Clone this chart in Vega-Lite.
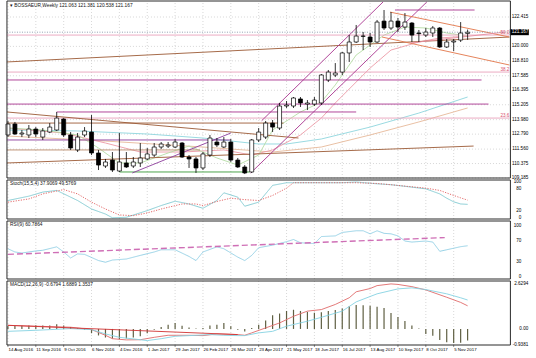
{
  "$schema": "https://vega.github.io/schema/vega-lite/v6.json",
  "width": 536,
  "height": 358,
  "autosize": {"type": "fit", "contains": "padding"},
  "padding": 0,
  "background": "#ffffff",
  "resolve": {"scale": {"y": "independent", "color": "independent", "strokeWidth": "independent", "strokeDash": "independent"}},
  "config": {
    "view": {"stroke": null},
    "text": {"font": "Liberation Sans", "fontSize": 4.8, "color": "#111111"}
  },
  "datasets": {
    "ticks": [
      {"date":"2016-08-14"},{"date":"2016-09-11"},{"date":"2016-10-09"},{"date":"2016-11-06"},{"date":"2016-12-04"},
      {"date":"2017-01-01"},{"date":"2017-01-29"},{"date":"2017-02-26"},{"date":"2017-03-26"},{"date":"2017-04-23"},
      {"date":"2017-05-21"},{"date":"2017-06-18"},{"date":"2017-07-16"},{"date":"2017-08-13"},{"date":"2017-09-10"},
      {"date":"2017-10-08"},{"date":"2017-11-05"}
    ],
    "candles": [
      {"date":"2016-08-14","open":112.72,"high":113.87,"low":112.55,"close":113.62},
      {"date":"2016-08-21","open":113.62,"high":113.79,"low":112.72,"close":112.80},
      {"date":"2016-08-28","open":112.80,"high":113.13,"low":112.55,"close":112.88},
      {"date":"2016-09-04","open":112.72,"high":113.54,"low":112.47,"close":113.21},
      {"date":"2016-09-11","open":113.21,"high":113.37,"low":112.55,"close":112.80},
      {"date":"2016-09-18","open":112.55,"high":113.29,"low":112.31,"close":113.05},
      {"date":"2016-09-25","open":112.96,"high":113.70,"low":112.88,"close":113.37},
      {"date":"2016-10-02","open":113.13,"high":114.61,"low":113.05,"close":114.11},
      {"date":"2016-10-09","open":114.03,"high":114.11,"low":112.55,"close":112.72},
      {"date":"2016-10-16","open":112.72,"high":112.96,"low":111.49,"close":111.65},
      {"date":"2016-10-23","open":111.49,"high":112.88,"low":111.32,"close":112.55},
      {"date":"2016-10-30","open":112.72,"high":113.37,"low":112.55,"close":113.05},
      {"date":"2016-11-06","open":112.96,"high":114.36,"low":111.07,"close":111.24},
      {"date":"2016-11-13","open":111.24,"high":111.49,"low":109.84,"close":110.25},
      {"date":"2016-11-20","open":110.17,"high":110.75,"low":110.01,"close":110.50},
      {"date":"2016-11-27","open":110.66,"high":111.32,"low":109.68,"close":109.84},
      {"date":"2016-12-04","open":109.76,"high":112.88,"low":109.68,"close":110.50},
      {"date":"2016-12-11","open":110.42,"high":111.32,"low":110.01,"close":110.09},
      {"date":"2016-12-18","open":110.17,"high":110.91,"low":110.01,"close":110.50},
      {"date":"2016-12-25","open":110.42,"high":112.06,"low":110.09,"close":110.83},
      {"date":"2017-01-01","open":110.75,"high":111.65,"low":110.66,"close":111.16},
      {"date":"2017-01-08","open":111.07,"high":112.06,"low":110.91,"close":111.73},
      {"date":"2017-01-15","open":111.73,"high":112.14,"low":111.57,"close":111.98},
      {"date":"2017-01-22","open":111.81,"high":112.14,"low":111.65,"close":111.90},
      {"date":"2017-01-29","open":111.73,"high":112.39,"low":111.65,"close":112.14},
      {"date":"2017-02-05","open":112.06,"high":112.14,"low":110.83,"close":110.91},
      {"date":"2017-02-12","open":110.91,"high":111.07,"low":110.01,"close":110.75},
      {"date":"2017-02-19","open":110.75,"high":110.91,"low":109.60,"close":110.01},
      {"date":"2017-02-26","open":110.01,"high":111.32,"low":109.84,"close":111.16},
      {"date":"2017-03-05","open":111.07,"high":112.72,"low":110.91,"close":112.47},
      {"date":"2017-03-12","open":112.14,"high":112.47,"low":111.73,"close":111.90},
      {"date":"2017-03-19","open":111.73,"high":112.55,"low":111.65,"close":112.14},
      {"date":"2017-03-26","open":112.14,"high":112.39,"low":110.50,"close":110.66},
      {"date":"2017-04-02","open":110.66,"high":110.83,"low":110.01,"close":110.09},
      {"date":"2017-04-09","open":110.09,"high":110.25,"low":109.51,"close":109.60},
      {"date":"2017-04-16","open":109.68,"high":112.39,"low":109.60,"close":112.31},
      {"date":"2017-04-23","open":112.31,"high":113.29,"low":112.14,"close":112.96},
      {"date":"2017-04-30","open":112.55,"high":113.87,"low":112.39,"close":113.70},
      {"date":"2017-05-07","open":113.70,"high":113.95,"low":112.96,"close":113.37},
      {"date":"2017-05-14","open":113.29,"high":115.35,"low":113.13,"close":115.10},
      {"date":"2017-05-21","open":115.10,"high":115.51,"low":114.94,"close":115.18},
      {"date":"2017-05-28","open":115.10,"high":115.84,"low":114.94,"close":115.76},
      {"date":"2017-06-04","open":115.68,"high":115.84,"low":115.02,"close":115.35},
      {"date":"2017-06-11","open":115.26,"high":115.59,"low":114.77,"close":115.35},
      {"date":"2017-06-18","open":115.26,"high":115.84,"low":115.10,"close":115.59},
      {"date":"2017-06-25","open":115.35,"high":117.73,"low":115.18,"close":117.65},
      {"date":"2017-07-02","open":117.24,"high":118.06,"low":117.07,"close":117.89},
      {"date":"2017-07-09","open":117.65,"high":118.63,"low":117.48,"close":117.81},
      {"date":"2017-07-16","open":117.89,"high":119.54,"low":117.65,"close":119.46},
      {"date":"2017-07-23","open":119.46,"high":120.93,"low":118.72,"close":120.36},
      {"date":"2017-07-30","open":120.36,"high":121.76,"low":120.28,"close":120.85},
      {"date":"2017-08-06","open":120.85,"high":121.18,"low":119.70,"close":120.83},
      {"date":"2017-08-13","open":120.77,"high":121.10,"low":119.95,"close":120.36},
      {"date":"2017-08-20","open":120.36,"high":122.17,"low":120.28,"close":122.00},
      {"date":"2017-08-27","open":122.08,"high":122.99,"low":121.35,"close":121.51},
      {"date":"2017-09-03","open":121.51,"high":122.82,"low":121.35,"close":122.08},
      {"date":"2017-09-10","open":122.08,"high":122.33,"low":121.18,"close":121.59},
      {"date":"2017-09-17","open":121.59,"high":122.74,"low":121.35,"close":122.00},
      {"date":"2017-09-24","open":121.92,"high":122.00,"low":120.36,"close":120.93},
      {"date":"2017-10-01","open":121.10,"high":121.35,"low":120.36,"close":121.05},
      {"date":"2017-10-08","open":120.93,"high":121.51,"low":120.77,"close":121.18},
      {"date":"2017-10-15","open":121.10,"high":121.67,"low":120.77,"close":121.51},
      {"date":"2017-10-22","open":121.51,"high":121.59,"low":119.87,"close":119.95},
      {"date":"2017-10-29","open":119.95,"high":120.61,"low":119.87,"close":120.36},
      {"date":"2017-11-05","open":120.36,"high":120.61,"low":119.62,"close":120.44},
      {"date":"2017-11-12","open":120.52,"high":122.00,"low":120.36,"close":121.10},
      {"date":"2017-11-19","open":121.063,"high":121.381,"low":120.538,"close":121.167}
    ],
    "lines": [
      {"id":"ma_tan","kind":"ma_tan","date":"2016-08-14","price":112.63},
      {"id":"ma_tan","kind":"ma_tan","date":"2016-11-20","price":112.22},
      {"id":"ma_tan","kind":"ma_tan","date":"2017-02-26","price":111.73},
      {"id":"ma_tan","kind":"ma_tan","date":"2017-05-07","price":111.32},
      {"id":"ma_tan","kind":"ma_tan","date":"2017-06-25","price":111.73},
      {"id":"ma_tan","kind":"ma_tan","date":"2017-08-13","price":112.72},
      {"id":"ma_tan","kind":"ma_tan","date":"2017-10-01","price":113.79},
      {"id":"ma_tan","kind":"ma_tan","date":"2017-11-19","price":114.94},
      {"id":"ma_cyan","kind":"ma_cyan","date":"2016-08-14","price":113.13},
      {"id":"ma_cyan","kind":"ma_cyan","date":"2016-10-23","price":113.05},
      {"id":"ma_cyan","kind":"ma_cyan","date":"2017-01-01","price":112.80},
      {"id":"ma_cyan","kind":"ma_cyan","date":"2017-02-26","price":112.47},
      {"id":"ma_cyan","kind":"ma_cyan","date":"2017-04-23","price":111.98},
      {"id":"ma_cyan","kind":"ma_cyan","date":"2017-05-21","price":111.98},
      {"id":"ma_cyan","kind":"ma_cyan","date":"2017-06-25","price":112.39},
      {"id":"ma_cyan","kind":"ma_cyan","date":"2017-08-13","price":113.37},
      {"id":"ma_cyan","kind":"ma_cyan","date":"2017-10-01","price":114.52},
      {"id":"ma_cyan","kind":"ma_cyan","date":"2017-11-19","price":115.84},
      {"id":"ma_pink","kind":"ma_pink","date":"2016-08-14","price":113.29},
      {"id":"ma_pink","kind":"ma_pink","date":"2016-10-09","price":112.88},
      {"id":"ma_pink","kind":"ma_pink","date":"2016-11-20","price":112.06},
      {"id":"ma_pink","kind":"ma_pink","date":"2016-12-25","price":111.32},
      {"id":"ma_pink","kind":"ma_pink","date":"2017-02-05","price":111.32},
      {"id":"ma_pink","kind":"ma_pink","date":"2017-03-19","price":111.49},
      {"id":"ma_pink","kind":"ma_pink","date":"2017-04-16","price":111.07},
      {"id":"ma_pink","kind":"ma_pink","date":"2017-05-07","price":111.49},
      {"id":"ma_pink","kind":"ma_pink","date":"2017-06-04","price":112.72},
      {"id":"ma_pink","kind":"ma_pink","date":"2017-06-25","price":114.11},
      {"id":"ma_pink","kind":"ma_pink","date":"2017-07-09","price":115.35},
      {"id":"ma_pink","kind":"ma_pink","date":"2017-08-13","price":118.22},
      {"id":"ma_pink","kind":"ma_pink","date":"2017-09-03","price":119.70},
      {"id":"ma_pink","kind":"ma_pink","date":"2017-10-01","price":120.36},
      {"id":"ma_pink","kind":"ma_pink","date":"2017-10-22","price":120.69},
      {"id":"ma_pink","kind":"ma_pink","date":"2017-11-19","price":120.85},
      {"id":"ma_green","kind":"ma_green","date":"2016-08-14","price":113.29},
      {"id":"ma_green","kind":"ma_green","date":"2016-09-18","price":113.13},
      {"id":"ma_green","kind":"ma_green","date":"2016-10-23","price":112.72},
      {"id":"ma_green","kind":"ma_green","date":"2016-11-13","price":111.65},
      {"id":"ma_green","kind":"ma_green","date":"2016-12-04","price":110.42},
      {"id":"ma_green","kind":"ma_green","date":"2016-12-25","price":110.42},
      {"id":"ma_green","kind":"ma_green","date":"2017-01-22","price":111.24},
      {"id":"ma_green","kind":"ma_green","date":"2017-02-12","price":111.81},
      {"id":"ma_green","kind":"ma_green","date":"2017-03-12","price":110.83},
      {"id":"ma_green","kind":"ma_green","date":"2017-04-02","price":110.25},
      {"id":"ma_green","kind":"ma_green","date":"2017-04-23","price":111.07},
      {"id":"ma_green","kind":"ma_green","date":"2017-05-07","price":113.13},
      {"id":"ma_green","kind":"ma_green","date":"2017-06-04","price":114.61},
      {"id":"ma_green","kind":"ma_green","date":"2017-06-25","price":115.43},
      {"id":"ma_green","kind":"ma_green","date":"2017-07-09","price":116.83},
      {"id":"ma_green","kind":"ma_green","date":"2017-07-30","price":119.29},
      {"id":"ma_green","kind":"ma_green","date":"2017-08-27","price":120.93},
      {"id":"ma_green","kind":"ma_green","date":"2017-09-17","price":121.59},
      {"id":"ma_green","kind":"ma_green","date":"2017-10-08","price":121.51},
      {"id":"ma_green","kind":"ma_green","date":"2017-10-29","price":121.10},
      {"id":"ma_green","kind":"ma_green","date":"2017-11-19","price":120.85},
      {"id":"fib50","kind":"fib","date":"2016-08-13","price":120.93},
      {"id":"fib50","kind":"fib","date":"2017-12-31","price":120.93},
      {"id":"fib382","kind":"fib","date":"2016-08-13","price":117.89},
      {"id":"fib382","kind":"fib","date":"2017-12-31","price":117.89},
      {"id":"fib236","kind":"fib","date":"2016-08-13","price":114.11},
      {"id":"fib236","kind":"fib","date":"2017-12-31","price":114.11},
      {"id":"mag1","kind":"magenta","date":"2016-08-13","price":117.24},
      {"id":"mag1","kind":"magenta","date":"2017-12-03","price":117.24},
      {"id":"mag2","kind":"magenta","date":"2016-08-13","price":115.26},
      {"id":"mag2","kind":"magenta","date":"2017-12-10","price":115.26},
      {"id":"mag3","kind":"magenta","date":"2016-10-02","price":114.61},
      {"id":"mag3","kind":"magenta","date":"2017-07-30","price":114.61},
      {"id":"mag4","kind":"magenta","date":"2017-09-07","price":122.99},
      {"id":"mag4","kind":"magenta","date":"2017-11-26","price":122.99},
      {"id":"brh1","kind":"brown","date":"2016-08-13","price":113.70},
      {"id":"brh1","kind":"brown","date":"2017-05-18","price":113.70},
      {"id":"purh","kind":"purple","date":"2016-08-13","price":112.31},
      {"id":"purh","kind":"purple","date":"2017-03-26","price":112.31},
      {"id":"brh2","kind":"brownthin","date":"2016-08-13","price":111.49},
      {"id":"brh2","kind":"brownthin","date":"2017-02-23","price":111.49},
      {"id":"grn","kind":"green","date":"2016-12-04","price":109.68},
      {"id":"grn","kind":"green","date":"2017-04-14","price":109.68},
      {"id":"d1","kind":"brown","date":"2016-08-13","price":118.72},
      {"id":"d1","kind":"brown","date":"2017-12-31","price":120.77},
      {"id":"d2","kind":"brown","date":"2016-08-13","price":114.61},
      {"id":"d2","kind":"brown","date":"2017-06-02","price":112.47},
      {"id":"d3","kind":"brown","date":"2016-08-13","price":110.42},
      {"id":"d3","kind":"brown","date":"2017-11-25","price":111.81},
      {"id":"d4","kind":"purple","date":"2016-12-17","price":109.60},
      {"id":"d4","kind":"purple","date":"2017-03-26","price":112.88},
      {"id":"d5","kind":"magenta","date":"2017-04-26","price":113.89},
      {"id":"d5","kind":"magenta","date":"2017-08-26","price":123.65},
      {"id":"d6","kind":"magenta","date":"2017-04-15","price":109.60},
      {"id":"d6","kind":"magenta","date":"2017-10-09","price":123.65},
      {"id":"d7","kind":"orange","date":"2017-09-02","price":122.82},
      {"id":"d7","kind":"orange","date":"2017-12-31","price":120.77},
      {"id":"d8","kind":"orange","date":"2017-08-25","price":120.77},
      {"id":"d8","kind":"orange","date":"2017-12-31","price":118.47},
      {"id":"d9","kind":"pinkline","date":"2017-09-22","price":120.28},
      {"id":"d9","kind":"pinkline","date":"2017-12-27","price":121.18}
    ],
    "fiblabels": [
      {"label":"50.0","date":"2017-12-31","price":120.93},
      {"label":"38.2","date":"2017-12-31","price":117.89},
      {"label":"23.6","date":"2017-12-31","price":114.11}
    ],
    "pricebox": [
      {"label":"121.167","date":"2018-01-10","labeldate":"2018-01-19","price":121.167}
    ],
    "mainlabels": [
      {"label":"122.415","date":"2018-01-19","price":122.415},
      {"label":"120.000","date":"2018-01-19","price":120.0},
      {"label":"118.810","date":"2018-01-19","price":118.81},
      {"label":"117.585","date":"2018-01-19","price":117.585},
      {"label":"116.395","date":"2018-01-19","price":116.395},
      {"label":"115.205","date":"2018-01-19","price":115.205},
      {"label":"113.980","date":"2018-01-19","price":113.98},
      {"label":"112.790","date":"2018-01-19","price":112.79},
      {"label":"111.560","date":"2018-01-19","price":111.56},
      {"label":"110.375","date":"2018-01-19","price":110.375},
      {"label":"109.185","date":"2018-01-19","price":109.185}
    ],
    "datelabels": [
      {"label":"14 Aug 2016","date":"2016-08-14","value":-0.9381},
      {"label":"11 Sep 2016","date":"2016-09-11","value":-0.9381},
      {"label":"9 Oct 2016","date":"2016-10-09","value":-0.9381},
      {"label":"6 Nov 2016","date":"2016-11-06","value":-0.9381},
      {"label":"4 Dec 2016","date":"2016-12-04","value":-0.9381},
      {"label":"1 Jan 2017","date":"2017-01-01","value":-0.9381},
      {"label":"29 Jan 2017","date":"2017-01-29","value":-0.9381},
      {"label":"26 Feb 2017","date":"2017-02-26","value":-0.9381},
      {"label":"26 Mar 2017","date":"2017-03-26","value":-0.9381},
      {"label":"23 Apr 2017","date":"2017-04-23","value":-0.9381},
      {"label":"21 May 2017","date":"2017-05-21","value":-0.9381},
      {"label":"18 Jun 2017","date":"2017-06-18","value":-0.9381},
      {"label":"16 Jul 2017","date":"2017-07-16","value":-0.9381},
      {"label":"13 Aug 2017","date":"2017-08-13","value":-0.9381},
      {"label":"10 Sep 2017","date":"2017-09-10","value":-0.9381},
      {"label":"8 Oct 2017","date":"2017-10-08","value":-0.9381},
      {"label":"5 Nov 2017","date":"2017-11-05","value":-0.9381}
    ],
    "stoch": [
      {"series":"K","date":"2016-08-14","value":48.6},
      {"series":"K","date":"2016-09-04","value":60.7},
      {"series":"K","date":"2016-09-18","value":72},
      {"series":"K","date":"2016-10-02","value":76.6},
      {"series":"K","date":"2016-10-23","value":48.6},
      {"series":"K","date":"2016-11-06","value":25},
      {"series":"K","date":"2016-11-20","value":11},
      {"series":"K","date":"2016-11-27","value":0.5},
      {"series":"K","date":"2016-12-11","value":2},
      {"series":"K","date":"2017-01-01","value":20.5},
      {"series":"K","date":"2017-01-15","value":34.6},
      {"series":"K","date":"2017-01-29","value":46.7},
      {"series":"K","date":"2017-02-12","value":39},
      {"series":"K","date":"2017-02-26","value":27},
      {"series":"K","date":"2017-03-12","value":48.6},
      {"series":"K","date":"2017-03-19","value":70},
      {"series":"K","date":"2017-04-02","value":58},
      {"series":"K","date":"2017-04-09","value":32.7},
      {"series":"K","date":"2017-04-23","value":44},
      {"series":"K","date":"2017-05-07","value":90.7},
      {"series":"K","date":"2017-05-21","value":98},
      {"series":"K","date":"2017-06-04","value":98},
      {"series":"K","date":"2017-06-25","value":98},
      {"series":"K","date":"2017-07-16","value":98},
      {"series":"K","date":"2017-07-30","value":100},
      {"series":"K","date":"2017-08-20","value":95},
      {"series":"K","date":"2017-09-03","value":92.5},
      {"series":"K","date":"2017-09-17","value":88},
      {"series":"K","date":"2017-10-08","value":81},
      {"series":"K","date":"2017-10-22","value":67},
      {"series":"K","date":"2017-10-29","value":55},
      {"series":"K","date":"2017-11-05","value":45},
      {"series":"K","date":"2017-11-12","value":39},
      {"series":"K","date":"2017-11-19","value":37.9},
      {"series":"D","date":"2016-08-14","value":44},
      {"series":"D","date":"2016-09-04","value":53},
      {"series":"D","date":"2016-09-18","value":67},
      {"series":"D","date":"2016-10-09","value":79},
      {"series":"D","date":"2016-10-23","value":67},
      {"series":"D","date":"2016-11-06","value":44},
      {"series":"D","date":"2016-11-20","value":25},
      {"series":"D","date":"2016-12-04","value":8.4},
      {"series":"D","date":"2016-12-18","value":6.5},
      {"series":"D","date":"2017-01-01","value":14},
      {"series":"D","date":"2017-01-15","value":25},
      {"series":"D","date":"2017-02-05","value":39},
      {"series":"D","date":"2017-02-19","value":39},
      {"series":"D","date":"2017-02-26","value":34.6},
      {"series":"D","date":"2017-03-12","value":46},
      {"series":"D","date":"2017-03-26","value":55},
      {"series":"D","date":"2017-04-09","value":51},
      {"series":"D","date":"2017-04-23","value":48.6},
      {"series":"D","date":"2017-05-07","value":62.6},
      {"series":"D","date":"2017-05-21","value":83},
      {"series":"D","date":"2017-05-28","value":98},
      {"series":"D","date":"2017-06-25","value":98},
      {"series":"D","date":"2017-07-30","value":98},
      {"series":"D","date":"2017-08-20","value":96},
      {"series":"D","date":"2017-09-03","value":92.5},
      {"series":"D","date":"2017-09-17","value":88.6},
      {"series":"D","date":"2017-10-08","value":83},
      {"series":"D","date":"2017-10-22","value":76.6},
      {"series":"D","date":"2017-11-05","value":62.6},
      {"series":"D","date":"2017-11-12","value":56},
      {"series":"D","date":"2017-11-19","value":49.6}
    ],
    "rsi": [
      {"series":"RSI","date":"2016-08-14","value":55},
      {"series":"RSI","date":"2016-08-21","value":48.7},
      {"series":"RSI","date":"2016-08-28","value":46.7},
      {"series":"RSI","date":"2016-09-11","value":50.7},
      {"series":"RSI","date":"2016-09-18","value":52},
      {"series":"RSI","date":"2016-10-02","value":58.7},
      {"series":"RSI","date":"2016-10-09","value":48.7},
      {"series":"RSI","date":"2016-10-16","value":37},
      {"series":"RSI","date":"2016-10-23","value":45},
      {"series":"RSI","date":"2016-10-30","value":44},
      {"series":"RSI","date":"2016-11-13","value":32},
      {"series":"RSI","date":"2016-11-20","value":28.7},
      {"series":"RSI","date":"2016-11-27","value":33},
      {"series":"RSI","date":"2016-12-11","value":35},
      {"series":"RSI","date":"2016-12-25","value":42},
      {"series":"RSI","date":"2017-01-08","value":48.7},
      {"series":"RSI","date":"2017-01-15","value":53},
      {"series":"RSI","date":"2017-01-29","value":53},
      {"series":"RSI","date":"2017-02-12","value":40},
      {"series":"RSI","date":"2017-02-19","value":32},
      {"series":"RSI","date":"2017-02-26","value":48.7},
      {"series":"RSI","date":"2017-03-12","value":58.7},
      {"series":"RSI","date":"2017-03-19","value":55},
      {"series":"RSI","date":"2017-04-02","value":38.7},
      {"series":"RSI","date":"2017-04-09","value":32},
      {"series":"RSI","date":"2017-04-16","value":42},
      {"series":"RSI","date":"2017-04-23","value":57},
      {"series":"RSI","date":"2017-05-07","value":62},
      {"series":"RSI","date":"2017-05-21","value":68.7},
      {"series":"RSI","date":"2017-05-28","value":73},
      {"series":"RSI","date":"2017-06-04","value":66.7},
      {"series":"RSI","date":"2017-06-18","value":65},
      {"series":"RSI","date":"2017-06-25","value":78.7},
      {"series":"RSI","date":"2017-07-09","value":80},
      {"series":"RSI","date":"2017-07-16","value":86.7},
      {"series":"RSI","date":"2017-07-30","value":90},
      {"series":"RSI","date":"2017-08-06","value":90},
      {"series":"RSI","date":"2017-08-13","value":84},
      {"series":"RSI","date":"2017-08-20","value":90},
      {"series":"RSI","date":"2017-08-27","value":85},
      {"series":"RSI","date":"2017-09-03","value":84},
      {"series":"RSI","date":"2017-09-10","value":80},
      {"series":"RSI","date":"2017-09-17","value":70},
      {"series":"RSI","date":"2017-09-24","value":68},
      {"series":"RSI","date":"2017-10-01","value":69},
      {"series":"RSI","date":"2017-10-08","value":70},
      {"series":"RSI","date":"2017-10-15","value":68},
      {"series":"RSI","date":"2017-10-22","value":50},
      {"series":"RSI","date":"2017-10-29","value":53},
      {"series":"RSI","date":"2017-11-05","value":56},
      {"series":"RSI","date":"2017-11-12","value":59},
      {"series":"RSI","date":"2017-11-19","value":60.8},
      {"series":"trend","date":"2016-08-14","value":44},
      {"series":"trend","date":"2017-10-27","value":76.7}
    ],
    "macdhist": [
      {"date":"2016-08-14","value":0.15},{"date":"2016-08-21","value":0.18},{"date":"2016-08-28","value":0.2},
      {"date":"2016-09-04","value":0.2},{"date":"2016-09-11","value":0.22},{"date":"2016-09-18","value":0.2},
      {"date":"2016-09-25","value":0.2},{"date":"2016-10-02","value":0.28},{"date":"2016-10-09","value":0.2},
      {"date":"2016-10-16","value":0.12},{"date":"2016-10-23","value":0.05},{"date":"2016-10-30","value":-0.05},
      {"date":"2016-11-06","value":-0.25},{"date":"2016-11-13","value":-0.38},{"date":"2016-11-20","value":-0.5},
      {"date":"2016-11-27","value":-0.56},{"date":"2016-12-04","value":-0.6},{"date":"2016-12-11","value":-0.56},
      {"date":"2016-12-18","value":-0.5},{"date":"2016-12-25","value":-0.42},{"date":"2017-01-01","value":-0.25},
      {"date":"2017-01-08","value":-0.05},{"date":"2017-01-15","value":0.12},{"date":"2017-01-22","value":0.25},
      {"date":"2017-01-29","value":0.35},{"date":"2017-02-05","value":0.18},{"date":"2017-02-12","value":0.08},
      {"date":"2017-02-19","value":0.02},{"date":"2017-02-26","value":0.06},{"date":"2017-03-05","value":0.2},
      {"date":"2017-03-12","value":0.25},{"date":"2017-03-19","value":0.35},{"date":"2017-03-26","value":0.15},
      {"date":"2017-04-02","value":-0.05},{"date":"2017-04-09","value":-0.15},{"date":"2017-04-16","value":0.05},
      {"date":"2017-04-23","value":0.25},{"date":"2017-04-30","value":0.5},{"date":"2017-05-07","value":0.8},
      {"date":"2017-05-14","value":0.9},{"date":"2017-05-21","value":1.05},{"date":"2017-05-28","value":1.12},
      {"date":"2017-06-04","value":1.05},{"date":"2017-06-11","value":1.0},{"date":"2017-06-18","value":0.95},
      {"date":"2017-06-25","value":0.98},{"date":"2017-07-02","value":1.05},{"date":"2017-07-09","value":1.1},
      {"date":"2017-07-16","value":1.2},{"date":"2017-07-23","value":1.32},{"date":"2017-07-30","value":1.4},
      {"date":"2017-08-06","value":1.38},{"date":"2017-08-13","value":1.35},{"date":"2017-08-20","value":1.3},
      {"date":"2017-08-27","value":1.23},{"date":"2017-09-03","value":0.93},{"date":"2017-09-10","value":0.7},
      {"date":"2017-09-17","value":0.47},{"date":"2017-09-24","value":0.2},{"date":"2017-10-01","value":0.02},
      {"date":"2017-10-08","value":-0.3},{"date":"2017-10-15","value":-0.4},{"date":"2017-10-22","value":-0.64},
      {"date":"2017-10-29","value":-0.78},{"date":"2017-11-05","value":-0.82},{"date":"2017-11-12","value":-0.8},
      {"date":"2017-11-19","value":-0.68}
    ],
    "macdlines": [
      {"series":"main","date":"2016-08-14","value":0.21},{"series":"main","date":"2016-09-11","value":0.16},
      {"series":"main","date":"2016-10-16","value":0.1},{"series":"main","date":"2016-11-06","value":-0.04},
      {"series":"main","date":"2016-11-20","value":-0.37},{"series":"main","date":"2016-11-27","value":-0.57},
      {"series":"main","date":"2016-12-11","value":-0.64},{"series":"main","date":"2016-12-25","value":-0.63},
      {"series":"main","date":"2017-01-08","value":-0.49},{"series":"main","date":"2017-01-22","value":-0.37},
      {"series":"main","date":"2017-02-12","value":-0.37},{"series":"main","date":"2017-02-26","value":-0.39},
      {"series":"main","date":"2017-03-12","value":-0.29},{"series":"main","date":"2017-04-02","value":-0.33},
      {"series":"main","date":"2017-04-09","value":-0.37},{"series":"main","date":"2017-04-16","value":-0.23},
      {"series":"main","date":"2017-04-30","value":0.06},{"series":"main","date":"2017-05-14","value":0.35},
      {"series":"main","date":"2017-05-28","value":0.74},{"series":"main","date":"2017-06-11","value":1.04},
      {"series":"main","date":"2017-06-25","value":1.13},{"series":"main","date":"2017-07-09","value":1.43},
      {"series":"main","date":"2017-07-23","value":1.82},{"series":"main","date":"2017-07-30","value":2.17},
      {"series":"main","date":"2017-08-13","value":2.36},{"series":"main","date":"2017-08-20","value":2.53},
      {"series":"main","date":"2017-09-03","value":2.63},{"series":"main","date":"2017-09-10","value":2.6},
      {"series":"main","date":"2017-09-24","value":2.47},{"series":"main","date":"2017-10-08","value":2.28},
      {"series":"main","date":"2017-10-29","value":1.85},{"series":"main","date":"2017-11-12","value":1.55},
      {"series":"main","date":"2017-11-19","value":1.35},
      {"series":"signal","date":"2016-08-14","value":-0.14},{"series":"signal","date":"2016-09-11","value":-0.08},
      {"series":"signal","date":"2016-10-16","value":0.02},{"series":"signal","date":"2016-11-06","value":-0.04},
      {"series":"signal","date":"2016-11-20","value":-0.29},{"series":"signal","date":"2016-12-04","value":-0.49},
      {"series":"signal","date":"2016-12-25","value":-0.63},{"series":"signal","date":"2017-01-01","value":-0.68},
      {"series":"signal","date":"2017-01-15","value":-0.57},{"series":"signal","date":"2017-01-29","value":-0.43},
      {"series":"signal","date":"2017-02-19","value":-0.37},{"series":"signal","date":"2017-03-05","value":-0.33},
      {"series":"signal","date":"2017-03-19","value":-0.37},{"series":"signal","date":"2017-04-02","value":-0.39},
      {"series":"signal","date":"2017-04-09","value":-0.39},{"series":"signal","date":"2017-04-23","value":-0.23},
      {"series":"signal","date":"2017-05-07","value":-0.14},{"series":"signal","date":"2017-05-21","value":0.16},
      {"series":"signal","date":"2017-06-11","value":0.45},{"series":"signal","date":"2017-06-25","value":0.68},
      {"series":"signal","date":"2017-07-16","value":1.04},{"series":"signal","date":"2017-07-30","value":1.58},
      {"series":"signal","date":"2017-08-20","value":2.05},{"series":"signal","date":"2017-09-10","value":2.34},
      {"series":"signal","date":"2017-09-24","value":2.4},{"series":"signal","date":"2017-10-08","value":2.3},
      {"series":"signal","date":"2017-10-29","value":2.05},{"series":"signal","date":"2017-11-12","value":1.82},
      {"series":"signal","date":"2017-11-19","value":1.69},
      {"series":"trend","date":"2016-08-14","value":0.21},{"series":"trend","date":"2017-04-02","value":-0.33}
    ]
  },
  "layer": [
    {
      "data": {"name": "ticks"},
      "mark": {"type": "rule", "color": "#bdbdbd", "strokeDash": [1, 2], "strokeWidth": 0.6},
      "encoding": {
        "x": {"field": "date", "type": "temporal", "title": null, "axis": null, "scale": {"type": "utc", "domain": [{"year":2016,"month":8,"date":11,"hours":0,"minutes":39,"utc":true}, {"year":2018,"month":1,"date":21,"hours":17,"minutes":7,"utc":true}]}},
        "y": {"datum": 109.185, "type": "quantitative", "axis": null, "scale": {"domain": [109.185, 123.73], "range": [178, 1], "nice": false, "zero": false}},
        "y2": {"datum": 123.73}
      }
    },
    {
      "data": {"name": "mainlabels"},
      "mark": {"type": "rule", "color": "#bdbdbd", "strokeDash": [1, 2], "strokeWidth": 0.6},
      "encoding": {
        "x": {"datum": {"year":2016,"month":8,"date":13,"utc":true}, "type": "temporal", "title": null, "axis": null, "scale": {"type": "utc", "domain": [{"year":2016,"month":8,"date":11,"hours":0,"minutes":39,"utc":true}, {"year":2018,"month":1,"date":21,"hours":17,"minutes":7,"utc":true}]}},
        "x2": {"datum": {"year":2018,"month":1,"date":1,"utc":true}},
        "y": {"field": "price", "type": "quantitative", "title": null, "axis": null, "scale": {"domain": [109.185, 123.73], "range": [178, 1], "nice": false, "zero": false}}
      }
    },
    {
      "data": {"name": "lines"},
      "mark": {"type": "line"},
      "encoding": {
        "x": {"field": "date", "type": "temporal", "title": null, "axis": null, "scale": {"type": "utc", "domain": [{"year":2016,"month":8,"date":11,"hours":0,"minutes":39,"utc":true}, {"year":2018,"month":1,"date":21,"hours":17,"minutes":7,"utc":true}]}},
        "y": {"field": "price", "type": "quantitative", "title": null, "axis": null, "scale": {"domain": [109.185, 123.73], "range": [178, 1], "nice": false, "zero": false}},
        "detail": {"field": "id"},
        "color": {"field": "kind", "type": "nominal", "legend": null,
          "scale": {"domain": ["ma_tan", "ma_cyan", "ma_pink", "ma_green", "fib", "magenta", "purple", "brown", "brownthin", "green", "orange", "pinkline"],
                    "range": ["#e6b99a", "#8fd6de", "#ec9aa6", "#b5dca5", "#e9a3bb", "#a8338f", "#8c3c9c", "#9c5a36", "#b98a6a", "#3a9a3a", "#e2764a", "#e88ea0"]}},
        "strokeWidth": {"field": "kind", "type": "ordinal", "legend": null,
          "scale": {"domain": ["ma_tan", "ma_cyan", "ma_pink", "ma_green", "fib", "magenta", "purple", "brown", "brownthin", "green", "orange", "pinkline"],
                    "range": [0.9, 0.9, 0.9, 0.9, 1, 1.8, 1.5, 1.4, 0.9, 1.2, 1.5, 0.9]}}
      }
    },
    {
      "data": {"values": [{"price": 121.167}]},
      "mark": {"type": "rule", "color": "#7a8aa0", "strokeDash": [1, 1.5], "strokeWidth": 0.8},
      "encoding": {
        "x": {"datum": {"year":2016,"month":8,"date":13,"utc":true}, "type": "temporal", "title": null, "axis": null, "scale": {"type": "utc", "domain": [{"year":2016,"month":8,"date":11,"hours":0,"minutes":39,"utc":true}, {"year":2018,"month":1,"date":21,"hours":17,"minutes":7,"utc":true}]}},
        "x2": {"datum": {"year":2018,"month":1,"date":1,"utc":true}},
        "y": {"field": "price", "type": "quantitative", "title": null, "axis": null, "scale": {"domain": [109.185, 123.73], "range": [178, 1], "nice": false, "zero": false}}
      }
    },
    {
      "data": {"name": "candles"},
      "mark": {"type": "rule", "color": "#000000", "strokeWidth": 0.8},
      "encoding": {
        "x": {"field": "date", "type": "temporal", "title": null, "axis": null, "scale": {"type": "utc", "domain": [{"year":2016,"month":8,"date":11,"hours":0,"minutes":39,"utc":true}, {"year":2018,"month":1,"date":21,"hours":17,"minutes":7,"utc":true}]}},
        "y": {"field": "low", "type": "quantitative", "title": null, "axis": null, "scale": {"domain": [109.185, 123.73], "range": [178, 1], "nice": false, "zero": false}},
        "y2": {"field": "high"}
      }
    },
    {
      "data": {"name": "candles"},
      "mark": {"type": "bar", "width": 4, "stroke": "#000000", "strokeWidth": 0.7},
      "encoding": {
        "x": {"field": "date", "type": "temporal", "title": null, "axis": null, "scale": {"type": "utc", "domain": [{"year":2016,"month":8,"date":11,"hours":0,"minutes":39,"utc":true}, {"year":2018,"month":1,"date":21,"hours":17,"minutes":7,"utc":true}]}},
        "y": {"field": "open", "type": "quantitative", "title": null, "axis": null, "scale": {"domain": [109.185, 123.73], "range": [178, 1], "nice": false, "zero": false}},
        "y2": {"field": "close"},
        "fill": {"condition": {"test": "datum.close >= datum.open", "value": "#ffffff"}, "value": "#000000"}
      }
    },
    {
      "data": {"name": "fiblabels"},
      "mark": {"type": "text", "align": "right", "baseline": "bottom", "fontSize": 4.6, "color": "#d9506e", "dy": -0.5},
      "encoding": {
        "x": {"field": "date", "type": "temporal", "title": null, "axis": null, "scale": {"type": "utc", "domain": [{"year":2016,"month":8,"date":11,"hours":0,"minutes":39,"utc":true}, {"year":2018,"month":1,"date":21,"hours":17,"minutes":7,"utc":true}]}},
        "y": {"field": "price", "type": "quantitative", "title": null, "axis": null, "scale": {"domain": [109.185, 123.73], "range": [178, 1], "nice": false, "zero": false}},
        "text": {"field": "label"}
      }
    },
    {
      "data": {"name": "mainlabels"},
      "mark": {"type": "text", "align": "right", "baseline": "middle", "fontSize": 4.6, "color": "#000000"},
      "encoding": {
        "x": {"field": "date", "type": "temporal", "title": null, "axis": null, "scale": {"type": "utc", "domain": [{"year":2016,"month":8,"date":11,"hours":0,"minutes":39,"utc":true}, {"year":2018,"month":1,"date":21,"hours":17,"minutes":7,"utc":true}]}},
        "y": {"field": "price", "type": "quantitative", "title": null, "axis": null, "scale": {"domain": [109.185, 123.73], "range": [178, 1], "nice": false, "zero": false}},
        "text": {"field": "label"}
      }
    },
    {
      "data": {"name": "pricebox"},
      "mark": {"type": "rect", "width": 19, "height": 6, "color": "#000000"},
      "encoding": {
        "x": {"field": "date", "type": "temporal", "title": null, "axis": null, "scale": {"type": "utc", "domain": [{"year":2016,"month":8,"date":11,"hours":0,"minutes":39,"utc":true}, {"year":2018,"month":1,"date":21,"hours":17,"minutes":7,"utc":true}]}},
        "y": {"field": "price", "type": "quantitative", "title": null, "axis": null, "scale": {"domain": [109.185, 123.73], "range": [178, 1], "nice": false, "zero": false}}
      }
    },
    {
      "data": {"name": "pricebox"},
      "mark": {"type": "text", "color": "#ffffff", "fontSize": 4.6, "baseline": "middle", "align": "right"},
      "encoding": {
        "x": {"field": "labeldate", "type": "temporal", "title": null, "axis": null, "scale": {"type": "utc", "domain": [{"year":2016,"month":8,"date":11,"hours":0,"minutes":39,"utc":true}, {"year":2018,"month":1,"date":21,"hours":17,"minutes":7,"utc":true}]}},
        "y": {"field": "price", "type": "quantitative", "title": null, "axis": null, "scale": {"domain": [109.185, 123.73], "range": [178, 1], "nice": false, "zero": false}},
        "text": {"field": "label"}
      }
    },
    {
      "data": {"values": [{"label": "▾ BOSSAEUR,Weekly  121.063 121.381 120.538 121.167", "date": "2016-08-13", "price": 123.73}]},
      "mark": {"type": "text", "align": "left", "baseline": "top", "dx": 3, "dy": 2},
      "encoding": {
        "x": {"field": "date", "type": "temporal", "title": null, "axis": null, "scale": {"type": "utc", "domain": [{"year":2016,"month":8,"date":11,"hours":0,"minutes":39,"utc":true}, {"year":2018,"month":1,"date":21,"hours":17,"minutes":7,"utc":true}]}},
        "y": {"field": "price", "type": "quantitative", "title": null, "axis": null, "scale": {"domain": [109.185, 123.73], "range": [178, 1], "nice": false, "zero": false}},
        "text": {"field": "label"}
      }
    },
    {
      "data": {"values": [{}]},
      "mark": {"type": "rect", "fill": null, "fillOpacity": 0, "stroke": "#2a2a2a", "strokeWidth": 1},
      "encoding": {
        "x": {"datum": {"year":2016,"month":8,"date":13,"utc":true}, "type": "temporal", "title": null, "axis": null, "scale": {"type": "utc", "domain": [{"year":2016,"month":8,"date":11,"hours":0,"minutes":39,"utc":true}, {"year":2018,"month":1,"date":21,"hours":17,"minutes":7,"utc":true}]}},
        "x2": {"datum": {"year":2018,"month":1,"date":1,"utc":true}},
        "y": {"datum": 109.185, "type": "quantitative", "axis": null, "scale": {"domain": [109.185, 123.73], "range": [178, 1], "nice": false, "zero": false}},
        "y2": {"datum": 123.73}
      }
    },
    {
      "data": {"name": "ticks"},
      "mark": {"type": "rule", "color": "#bdbdbd", "strokeDash": [1, 2], "strokeWidth": 0.6},
      "encoding": {
        "x": {"field": "date", "type": "temporal", "title": null, "axis": null, "scale": {"type": "utc", "domain": [{"year":2016,"month":8,"date":11,"hours":0,"minutes":39,"utc":true}, {"year":2018,"month":1,"date":21,"hours":17,"minutes":7,"utc":true}]}},
        "y": {"datum": -2.8, "type": "quantitative", "axis": null, "scale": {"domain": [-2.8, 105.6], "range": [219, 180], "nice": false, "zero": false}},
        "y2": {"datum": 105.6}
      }
    },
    {
      "data": {"name": "stoch"},
      "mark": {"type": "line", "strokeWidth": 0.9},
      "encoding": {
        "x": {"field": "date", "type": "temporal", "title": null, "axis": null, "scale": {"type": "utc", "domain": [{"year":2016,"month":8,"date":11,"hours":0,"minutes":39,"utc":true}, {"year":2018,"month":1,"date":21,"hours":17,"minutes":7,"utc":true}]}},
        "y": {"field": "value", "type": "quantitative", "title": null, "axis": null, "scale": {"domain": [-2.8, 105.6], "range": [219, 180], "nice": false, "zero": false}},
        "color": {"field": "series", "type": "nominal", "legend": null, "scale": {"domain": ["K", "D"], "range": ["#7cc7cf", "#e05a5a"]}},
        "strokeDash": {"field": "series", "type": "nominal", "legend": null, "scale": {"domain": ["K", "D"], "range": [[1, 0], [1.2, 1.4]]}}
      }
    },
    {
      "data": {"values": [{"label": "100", "date": "2018-01-12", "value": 100}, {"label": "80", "date": "2018-01-12", "value": 80}, {"label": "20", "date": "2018-01-12", "value": 20}, {"label": "0", "date": "2018-01-12", "value": 0}]},
      "mark": {"type": "text", "align": "right", "baseline": "middle", "fontSize": 4.6, "color": "#000000"},
      "encoding": {
        "x": {"field": "date", "type": "temporal", "title": null, "axis": null, "scale": {"type": "utc", "domain": [{"year":2016,"month":8,"date":11,"hours":0,"minutes":39,"utc":true}, {"year":2018,"month":1,"date":21,"hours":17,"minutes":7,"utc":true}]}},
        "y": {"field": "value", "type": "quantitative", "title": null, "axis": null, "scale": {"domain": [-2.8, 105.6], "range": [219, 180], "nice": false, "zero": false}},
        "text": {"field": "label"}
      }
    },
    {
      "data": {"values": [{"label": "Stoch(15,5,4) 37.9069 49.5769", "date": "2016-08-13", "value": 105.6}]},
      "mark": {"type": "text", "align": "left", "baseline": "top", "dx": 3, "dy": 1},
      "encoding": {
        "x": {"field": "date", "type": "temporal", "title": null, "axis": null, "scale": {"type": "utc", "domain": [{"year":2016,"month":8,"date":11,"hours":0,"minutes":39,"utc":true}, {"year":2018,"month":1,"date":21,"hours":17,"minutes":7,"utc":true}]}},
        "y": {"field": "value", "type": "quantitative", "title": null, "axis": null, "scale": {"domain": [-2.8, 105.6], "range": [219, 180], "nice": false, "zero": false}},
        "text": {"field": "label"}
      }
    },
    {
      "data": {"values": [{}]},
      "mark": {"type": "rect", "fill": null, "fillOpacity": 0, "stroke": "#2a2a2a", "strokeWidth": 1},
      "encoding": {
        "x": {"datum": {"year":2016,"month":8,"date":13,"utc":true}, "type": "temporal", "title": null, "axis": null, "scale": {"type": "utc", "domain": [{"year":2016,"month":8,"date":11,"hours":0,"minutes":39,"utc":true}, {"year":2018,"month":1,"date":21,"hours":17,"minutes":7,"utc":true}]}},
        "x2": {"datum": {"year":2018,"month":1,"date":1,"utc":true}},
        "y": {"datum": -2.8, "type": "quantitative", "axis": null, "scale": {"domain": [-2.8, 105.6], "range": [219, 180], "nice": false, "zero": false}},
        "y2": {"datum": 105.6}
      }
    },
    {
      "data": {"name": "ticks"},
      "mark": {"type": "rule", "color": "#bdbdbd", "strokeDash": [1, 2], "strokeWidth": 0.6},
      "encoding": {
        "x": {"field": "date", "type": "temporal", "title": null, "axis": null, "scale": {"type": "utc", "domain": [{"year":2016,"month":8,"date":11,"hours":0,"minutes":39,"utc":true}, {"year":2018,"month":1,"date":21,"hours":17,"minutes":7,"utc":true}]}},
        "y": {"datum": -3.9, "type": "quantitative", "axis": null, "scale": {"domain": [-3.9, 109], "range": [279, 221], "nice": false, "zero": false}},
        "y2": {"datum": 109}
      }
    },
    {
      "data": {"name": "rsi"},
      "mark": {"type": "line"},
      "encoding": {
        "x": {"field": "date", "type": "temporal", "title": null, "axis": null, "scale": {"type": "utc", "domain": [{"year":2016,"month":8,"date":11,"hours":0,"minutes":39,"utc":true}, {"year":2018,"month":1,"date":21,"hours":17,"minutes":7,"utc":true}]}},
        "y": {"field": "value", "type": "quantitative", "title": null, "axis": null, "scale": {"domain": [-3.9, 109], "range": [279, 221], "nice": false, "zero": false}},
        "color": {"field": "series", "type": "nominal", "legend": null, "scale": {"domain": ["RSI", "trend"], "range": ["#8ccde3", "#cf6fb6"]}},
        "strokeDash": {"field": "series", "type": "nominal", "legend": null, "scale": {"domain": ["RSI", "trend"], "range": [[1, 0], [6, 3]]}},
        "strokeWidth": {"field": "series", "type": "ordinal", "legend": null, "scale": {"domain": ["RSI", "trend"], "range": [0.9, 1.4]}}
      }
    },
    {
      "data": {"values": [{"label": "100", "date": "2018-01-12", "value": 100}, {"label": "70", "date": "2018-01-12", "value": 70}, {"label": "30", "date": "2018-01-12", "value": 30}, {"label": "0", "date": "2018-01-12", "value": 0}]},
      "mark": {"type": "text", "align": "right", "baseline": "middle", "fontSize": 4.6, "color": "#000000"},
      "encoding": {
        "x": {"field": "date", "type": "temporal", "title": null, "axis": null, "scale": {"type": "utc", "domain": [{"year":2016,"month":8,"date":11,"hours":0,"minutes":39,"utc":true}, {"year":2018,"month":1,"date":21,"hours":17,"minutes":7,"utc":true}]}},
        "y": {"field": "value", "type": "quantitative", "title": null, "axis": null, "scale": {"domain": [-3.9, 109], "range": [279, 221], "nice": false, "zero": false}},
        "text": {"field": "label"}
      }
    },
    {
      "data": {"values": [{"label": "RSI(9) 60.7864", "date": "2016-08-13", "value": 109}]},
      "mark": {"type": "text", "align": "left", "baseline": "top", "dx": 3, "dy": 1},
      "encoding": {
        "x": {"field": "date", "type": "temporal", "title": null, "axis": null, "scale": {"type": "utc", "domain": [{"year":2016,"month":8,"date":11,"hours":0,"minutes":39,"utc":true}, {"year":2018,"month":1,"date":21,"hours":17,"minutes":7,"utc":true}]}},
        "y": {"field": "value", "type": "quantitative", "title": null, "axis": null, "scale": {"domain": [-3.9, 109], "range": [279, 221], "nice": false, "zero": false}},
        "text": {"field": "label"}
      }
    },
    {
      "data": {"values": [{}]},
      "mark": {"type": "rect", "fill": null, "fillOpacity": 0, "stroke": "#2a2a2a", "strokeWidth": 1},
      "encoding": {
        "x": {"datum": {"year":2016,"month":8,"date":13,"utc":true}, "type": "temporal", "title": null, "axis": null, "scale": {"type": "utc", "domain": [{"year":2016,"month":8,"date":11,"hours":0,"minutes":39,"utc":true}, {"year":2018,"month":1,"date":21,"hours":17,"minutes":7,"utc":true}]}},
        "x2": {"datum": {"year":2018,"month":1,"date":1,"utc":true}},
        "y": {"datum": -3.9, "type": "quantitative", "axis": null, "scale": {"domain": [-3.9, 109], "range": [279, 221], "nice": false, "zero": false}},
        "y2": {"datum": 109}
      }
    },
    {
      "data": {"name": "ticks"},
      "mark": {"type": "rule", "color": "#bdbdbd", "strokeDash": [1, 2], "strokeWidth": 0.6},
      "encoding": {
        "x": {"field": "date", "type": "temporal", "title": null, "axis": null, "scale": {"type": "utc", "domain": [{"year":2016,"month":8,"date":11,"hours":0,"minutes":39,"utc":true}, {"year":2018,"month":1,"date":21,"hours":17,"minutes":7,"utc":true}]}},
        "y": {"datum": -0.9381, "type": "quantitative", "axis": null, "scale": {"domain": [-0.9381, 2.8], "range": [345, 281], "nice": false, "zero": false}},
        "y2": {"datum": 2.8}
      }
    },
    {
      "data": {"name": "ticks"},
      "mark": {"type": "rule", "color": "#333333", "strokeWidth": 0.6},
      "encoding": {
        "x": {"field": "date", "type": "temporal", "title": null, "axis": null, "scale": {"type": "utc", "domain": [{"year":2016,"month":8,"date":11,"hours":0,"minutes":39,"utc":true}, {"year":2018,"month":1,"date":21,"hours":17,"minutes":7,"utc":true}]}},
        "y": {"datum": -0.9381, "type": "quantitative", "axis": null, "scale": {"domain": [-0.9381, 2.8], "range": [345, 281], "nice": false, "zero": false}},
        "y2": {"datum": -1.05}
      }
    },
    {
      "data": {"name": "macdhist"},
      "mark": {"type": "bar", "width": 1.2, "color": "#5f5f42"},
      "encoding": {
        "x": {"field": "date", "type": "temporal", "title": null, "axis": null, "scale": {"type": "utc", "domain": [{"year":2016,"month":8,"date":11,"hours":0,"minutes":39,"utc":true}, {"year":2018,"month":1,"date":21,"hours":17,"minutes":7,"utc":true}]}},
        "y": {"field": "value", "type": "quantitative", "title": null, "axis": null, "scale": {"domain": [-0.9381, 2.8], "range": [345, 281], "nice": false, "zero": false}},
        "y2": {"datum": 0}
      }
    },
    {
      "data": {"name": "macdlines"},
      "mark": {"type": "line"},
      "encoding": {
        "x": {"field": "date", "type": "temporal", "title": null, "axis": null, "scale": {"type": "utc", "domain": [{"year":2016,"month":8,"date":11,"hours":0,"minutes":39,"utc":true}, {"year":2018,"month":1,"date":21,"hours":17,"minutes":7,"utc":true}]}},
        "y": {"field": "value", "type": "quantitative", "title": null, "axis": null, "scale": {"domain": [-0.9381, 2.8], "range": [345, 281], "nice": false, "zero": false}},
        "color": {"field": "series", "type": "nominal", "legend": null, "scale": {"domain": ["main", "signal", "trend"], "range": ["#e06a6a", "#86d2e2", "#d03232"]}},
        "strokeWidth": {"field": "series", "type": "ordinal", "legend": null, "scale": {"domain": ["main", "signal", "trend"], "range": [0.9, 0.9, 1.8]}}
      }
    },
    {
      "data": {"values": [{"label": "2.6294", "date": "2018-01-19", "value": 2.6294}, {"label": "0.00", "date": "2018-01-19", "value": 0}, {"label": "-0.9381", "date": "2018-01-19", "value": -0.9381}]},
      "mark": {"type": "text", "align": "right", "baseline": "middle", "fontSize": 4.6, "color": "#000000"},
      "encoding": {
        "x": {"field": "date", "type": "temporal", "title": null, "axis": null, "scale": {"type": "utc", "domain": [{"year":2016,"month":8,"date":11,"hours":0,"minutes":39,"utc":true}, {"year":2018,"month":1,"date":21,"hours":17,"minutes":7,"utc":true}]}},
        "y": {"field": "value", "type": "quantitative", "title": null, "axis": null, "scale": {"domain": [-0.9381, 2.8], "range": [345, 281], "nice": false, "zero": false}},
        "text": {"field": "label"}
      }
    },
    {
      "data": {"name": "datelabels"},
      "mark": {"type": "text", "align": "left", "baseline": "top", "dy": 3, "dx": 0.5, "fontSize": 4.4, "color": "#000000"},
      "encoding": {
        "x": {"field": "date", "type": "temporal", "title": null, "axis": null, "scale": {"type": "utc", "domain": [{"year":2016,"month":8,"date":11,"hours":0,"minutes":39,"utc":true}, {"year":2018,"month":1,"date":21,"hours":17,"minutes":7,"utc":true}]}},
        "y": {"field": "value", "type": "quantitative", "title": null, "axis": null, "scale": {"domain": [-0.9381, 2.8], "range": [345, 281], "nice": false, "zero": false}},
        "text": {"field": "label"}
      }
    },
    {
      "data": {"values": [{"label": "MACD(12,26,9) -0.6794 1.6889 1.3537", "date": "2016-08-13", "value": 2.8}]},
      "mark": {"type": "text", "align": "left", "baseline": "top", "dx": 3, "dy": 1},
      "encoding": {
        "x": {"field": "date", "type": "temporal", "title": null, "axis": null, "scale": {"type": "utc", "domain": [{"year":2016,"month":8,"date":11,"hours":0,"minutes":39,"utc":true}, {"year":2018,"month":1,"date":21,"hours":17,"minutes":7,"utc":true}]}},
        "y": {"field": "value", "type": "quantitative", "title": null, "axis": null, "scale": {"domain": [-0.9381, 2.8], "range": [345, 281], "nice": false, "zero": false}},
        "text": {"field": "label"}
      }
    },
    {
      "data": {"values": [{}]},
      "mark": {"type": "rect", "fill": null, "fillOpacity": 0, "stroke": "#2a2a2a", "strokeWidth": 1},
      "encoding": {
        "x": {"datum": {"year":2016,"month":8,"date":13,"utc":true}, "type": "temporal", "title": null, "axis": null, "scale": {"type": "utc", "domain": [{"year":2016,"month":8,"date":11,"hours":0,"minutes":39,"utc":true}, {"year":2018,"month":1,"date":21,"hours":17,"minutes":7,"utc":true}]}},
        "x2": {"datum": {"year":2018,"month":1,"date":1,"utc":true}},
        "y": {"datum": -0.9381, "type": "quantitative", "axis": null, "scale": {"domain": [-0.9381, 2.8], "range": [345, 281], "nice": false, "zero": false}},
        "y2": {"datum": 2.8}
      }
    }
  ]
}
